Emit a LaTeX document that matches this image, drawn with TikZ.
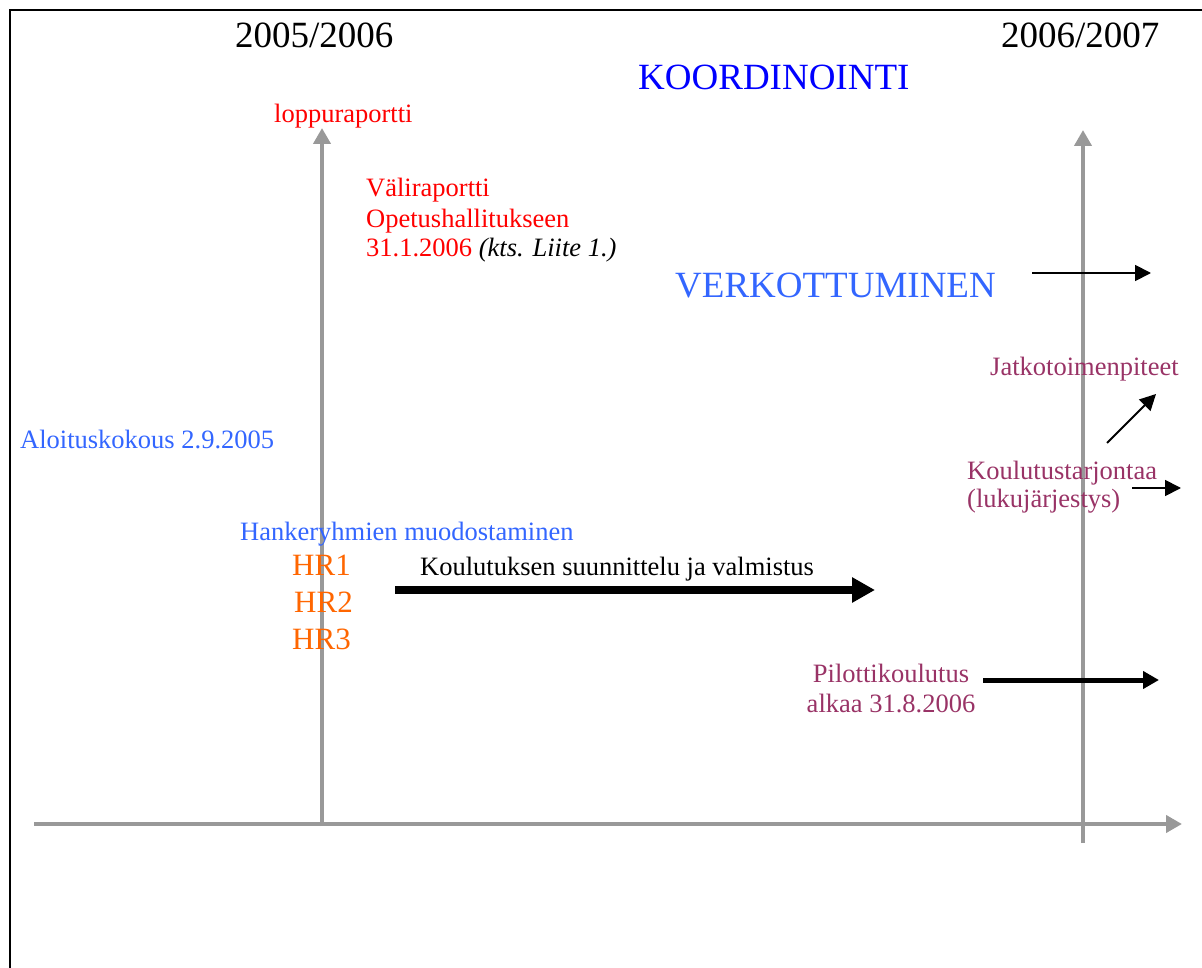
\documentclass[tikz,border=0pt]{standalone}
\usepackage{fontspec}
\setmainfont{Liberation Serif}
\usetikzlibrary{arrows.meta}

\definecolor{axisgray}{HTML}{999999}
\definecolor{hdblue}{HTML}{0000FF}
\definecolor{ltblue}{HTML}{3366FF}
\definecolor{plum}{HTML}{993366}
\definecolor{hrorange}{HTML}{FF6600}
\definecolor{reportred}{HTML}{FF0000}

\tikzset{
  lbl/.style={inner sep=0pt, anchor=base west},
  big/.style={font=\fontsize{37}{42}\selectfont},
  mid/.style={font=\fontsize{26.5}{30}\selectfont},
  hr/.style={font=\fontsize{31}{35}\selectfont, text=hrorange},
  axis/.style={draw=axisgray, line width=4pt,
    -{Triangle[length=16pt,width=17pt]}},
  thinarrow/.style={draw=black, line width=1.8pt,
    -{Triangle[length=16pt,width=16pt]}},
  thickarrow/.style={draw=black, line width=7.5pt,
    -{Triangle[length=23pt,width=24pt]}},
  medarrow/.style={draw=black, line width=5pt,
    -{Triangle[length=16pt,width=17pt]}},
}

\begin{document}
\begin{tikzpicture}[x=1pt,y=-1pt]
  \useasboundingbox (0,0) rectangle (1202,968);

  % page frame (top and left edges)
  \draw[line width=2pt] (10,968) -- (10,10) -- (1202,10);

  % time axes
  \coordinate (v1b) at (322,826);
  \coordinate (v1t) at (322,128);
  \coordinate (v2b) at (1083,843);
  \coordinate (v2t) at (1083,130);
  \coordinate (hl) at (34,824);
  \coordinate (hr) at (1182,824);
  \draw[axis] (v1b) -- (v1t);
  \draw[axis] (v2b) -- (v2t);
  \draw[axis] (hl) -- (hr);

  % headings
  \node[lbl, big] (y1) at (235,48) {2005/2006};
  \node[lbl, big] (y2) at (1001,48) {2006/2007};
  \node[lbl, big, text=hdblue] (koord) at (638,90) {KOORDINOINTI};
  \node[lbl, big, text=ltblue] (verk) at (675,298) {VERKOTTUMINEN};

  % reports
  \node[lbl, mid, text=reportred] (loppu) at (274,123) {loppuraportti};
  \node[lbl, mid, text=reportred] (vali1) at (366,197) {Väliraportti};
  \node[lbl, mid, text=reportred] (vali2) at (366,228) {Opetushallitukseen};
  \node[lbl, mid] (vali3) at (366,257)
    {\textcolor{reportred}{31.1.2006} \textit{(kts. Liite 1.)}};

  % start of the project
  \node[lbl, mid, text=ltblue] (aloitus) at (20,448) {Aloituskokous 2.9.2005};
  \node[lbl, mid, text=ltblue] (hanke) at (240,540) {Hankeryhmien muodostaminen};
  \node[lbl, hr] (hr1) at (292,575) {HR1};
  \node[lbl, hr] (hr2) at (294,612) {HR2};
  \node[lbl, hr] (hr3) at (292,649) {HR3};

  % planning
  \node[lbl, mid] (suun) at (420,575) {Koulutuksen suunnittelu ja valmistus};
  \coordinate (suuns) at (395,590);
  \coordinate (suune) at (875,590);
  \draw[thickarrow] (suuns) -- (suune);

  % pilot training
  \node[inner sep=0pt, anchor=base, mid, text=plum] (pil1) at (891,682) {Pilottikoulutus};
  \node[inner sep=0pt, anchor=base, mid, text=plum] (pil2) at (891,712) {alkaa 31.8.2006};
  \coordinate (pils) at (983,680);
  \coordinate (pile) at (1159,680);
  \draw[medarrow] (pils) -- (pile);

  % networking
  \coordinate (verks) at (1032,273);
  \coordinate (verke) at (1151,273);
  \draw[thinarrow] (verks) -- (verke);

  % follow-up
  \node[lbl, mid, text=plum] (jatko) at (990,375) {Jatkotoimenpiteet};
  \coordinate (jatkos) at (1107,443);
  \coordinate (jatkoe) at (1156,394);
  \draw[thinarrow] (jatkos) -- (jatkoe);

  \node[lbl, mid, text=plum] (kt1) at (967,479) {Koulutustarjontaa};
  \node[lbl, mid, text=plum] (kt2) at (967,507) {(lukujärjestys)};
  \coordinate (kts) at (1132,488);
  \coordinate (kte) at (1181,488);
  \draw[thinarrow] (kts) -- (kte);
\end{tikzpicture}
\end{document}
